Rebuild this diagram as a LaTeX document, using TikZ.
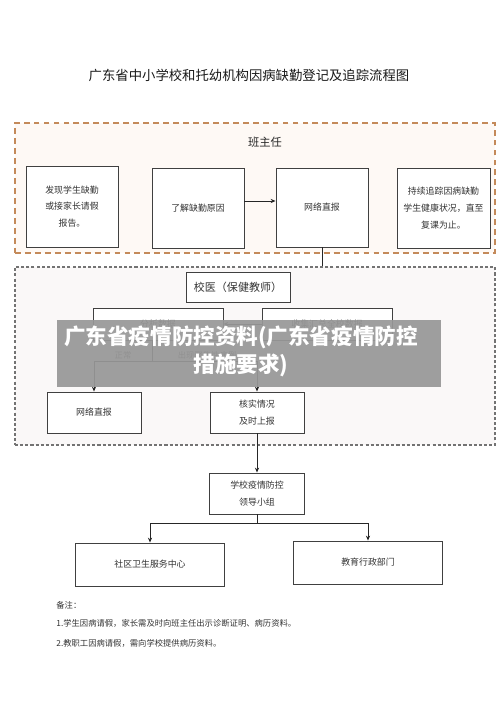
\documentclass[tikz,border=0pt]{standalone}
\usepackage{fontspec}
\setmainfont{Noto Sans CJK SC}
\usetikzlibrary{arrows.meta}
\definecolor{headbrown}{RGB}{196,138,90}
\definecolor{headfill}{RGB}{254,249,245}
\definecolor{campfill}{RGB}{250,248,248}
\definecolor{markgray}{RGB}{152,152,152}
\newcommand\bodyfont{\fontsize{7.6pt}{14.4pt}\selectfont}
\newcommand\notefont{\fontsize{7.1pt}{9pt}\selectfont}

\begin{document}
\begin{tikzpicture}[x=0.03cm,y=-0.03cm,line join=miter,
  box/.style={draw=black!75,fill=white,line width=0.8pt,inner sep=0pt,align=center,font=\bodyfont,text=black!80},
  link/.style={black!85,line width=0.75pt},
  arr/.style={link,-{Stealth[length=4.2pt,width=3.6pt]}},
  tag/.style={font=\notefont,text=black!80,inner sep=1pt}]
\useasboundingbox (0,0) rectangle (500,707);
\node[font=\fontsize{11.4pt}{13pt}\selectfont,text=black!90] (title) at (249,75) {广东省中小学校和托幼机构因病缺勤登记及追踪流程图};
% class teacher frame
\node[draw=headbrown,fill=headfill,line width=1.1pt,dash pattern=on 5pt off 3.5pt,minimum width=14.4cm,minimum height=3.9cm] (teacher) at (255,188) {};
\node[font=\fontsize{9.6pt}{11pt}\selectfont,text=black!85] (teachertitle) at (265,142) {班主任};
\node[box,minimum width=2.76cm,minimum height=2.43cm] (find) at (72,206.5) {发现学生缺勤\\或接家长请假\\报告。};
\node[box,minimum width=2.76cm,minimum height=2.4cm] (reason) at (198,208) {了解缺勤原因};
\node[box,minimum width=2.76cm,minimum height=2.37cm] (report) at (322,207.5) {网络直报};
\node[box,minimum width=2.79cm,minimum height=2.4cm] (track) at (443.5,208) {持续追踪因病缺勤\\学生健康状况，直至\\复课为止。};
% school frame
\node[draw=black!55,fill=campfill,line width=1pt,dash pattern=on 2.6pt off 1.8pt,minimum width=14.4cm,minimum height=5.34cm] (campus) at (255,356) {};
\draw[arr] ([yshift=0.21cm]reason.east) -- ([yshift=0.21cm]reason.east -| report.west);
\draw[link] (report.south) -- (report.south |- campus.north);
\node[box,font=\fontsize{9.4pt}{11pt}\selectfont,minimum width=3.12cm,minimum height=0.9cm] (doctor) at (238,287) {校医（保健教师）};
\node[box,minimum width=3.9cm,minimum height=0.96cm] (analyse) at (158,324) {分析数据};
\node[box,minimum width=3.9cm,minimum height=0.96cm] (collect) at (327,324) {收集汇总全校数据};
\draw[arr] (collect.west) -- (analyse.east);
\node[box,minimum width=2.82cm,minimum height=1.23cm] (netreport) at (94,412.5) {网络直报};
\node[box,minimum width=2.82cm,minimum height=1.23cm] (verify) at (257,412.5) {核实情况\\及时上报};
\coordinate (fork) at (152,361);
\draw[link] (analyse.south -| fork) -- (fork);
\draw[arr] (fork) -| (netreport.north);
\draw[arr] (fork) -| (verify.north);
\node[tag] (normal) at (123,355) {正常};
\node[tag] (cluster) at (207,355) {出现聚集性病例};
% leading group
\node[box,minimum width=2.85cm,minimum height=1.23cm] (group) at (257,493.5) {学校疫情防控\\领导小组};
\draw[arr] (verify.south) -- (group.north);
\node[box,minimum width=4.47cm,minimum height=1.29cm] (community) at (150,564.5) {社区卫生服务中心};
\node[box,minimum width=4.47cm,minimum height=1.29cm] (edu) at (368,562.5) {教育行政部门};
\coordinate (fork2) at (257,523);
\draw[link] (group.south) -- (fork2);
\draw[arr] (fork2) -| (community.north);
\draw[arr] (fork2) -| (edu.north);
% notes
\node[tag,anchor=west] (notehead) at (55,605) {备注：};
\node[tag,anchor=west] (noteone) at (55,623) {1.学生因病请假，家长需及时向班主任出示诊断证明、病历资料。};
\node[tag,anchor=west] (notetwo) at (55,643) {2.教职工因病请假，需向学校提供病历资料。};
% overlay band
\node[fill=markgray,fill opacity=0.93,minimum width=11.52cm,minimum height=2.01cm,inner sep=0pt] (band) at (249,353.5) {};
\node[text=white,font=\fontsize{18.4pt}{24pt}\selectfont\bfseries,align=center,inner sep=0pt] (bandtext) at (241,351) {广东省疫情防控资料(广东省疫情防控\\措施要求)};
\end{tikzpicture}
\end{document}
